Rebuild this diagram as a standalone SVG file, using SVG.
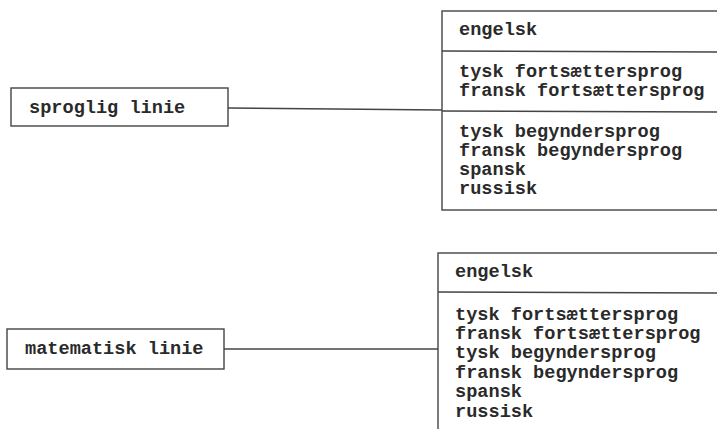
<svg xmlns="http://www.w3.org/2000/svg" width="717" height="429" viewBox="0 0 717 429">
<style>
.box{fill:none;stroke:#444;stroke-width:1.4}
.div{stroke:#444;stroke-width:1.4}
.t{font-family:"Liberation Mono","Courier New",monospace;font-size:18.6px;font-weight:bold;fill:#2a2a2a}
.c{stroke:#444;stroke-width:1.3;fill:none}
</style>
<rect width="717" height="429" fill="#fff"/>
<g id="connectors">
<line class="c" x1="228" y1="108" x2="442" y2="110"/>
<line class="c" x1="224" y1="349" x2="438" y2="349"/>
</g>
<g id="sproglig">
<rect class="box" x="11" y="88" width="217" height="38"/>
<text class="t" x="29" y="113">sproglig linie</text>
</g>
<g id="matematisk">
<rect class="box" x="7" y="329" width="217" height="40"/>
<text class="t" x="25" y="354">matematisk linie</text>
</g>
<g id="sprog-fag">
<rect class="box" x="442" y="11" width="290" height="199"/>
<line class="div" x1="442" y1="51" x2="720" y2="52"/>
<line class="div" x1="442" y1="111" x2="720" y2="112"/>
<text class="t" x="459" y="35">engelsk</text>
<text class="t" x="459" y="77">tysk fortsættersprog</text>
<text class="t" x="459" y="96">fransk fortsættersprog</text>
<text class="t" x="459" y="137">tysk begyndersprog</text>
<text class="t" x="459" y="156">fransk begyndersprog</text>
<text class="t" x="459" y="175">spansk</text>
<text class="t" x="459" y="194">russisk</text>
</g>
<g id="mat-fag">
<rect class="box" x="438" y="253" width="290" height="200"/>
<line class="div" x1="438" y1="292" x2="720" y2="293"/>
<text class="t" x="455" y="277">engelsk</text>
<text class="t" x="455" y="320">tysk fortsættersprog</text>
<text class="t" x="455" y="339">fransk fortsættersprog</text>
<text class="t" x="455" y="358">tysk begyndersprog</text>
<text class="t" x="455" y="378">fransk begyndersprog</text>
<text class="t" x="455" y="397">spansk</text>
<text class="t" x="455" y="417">russisk</text>
</g>
</svg>
